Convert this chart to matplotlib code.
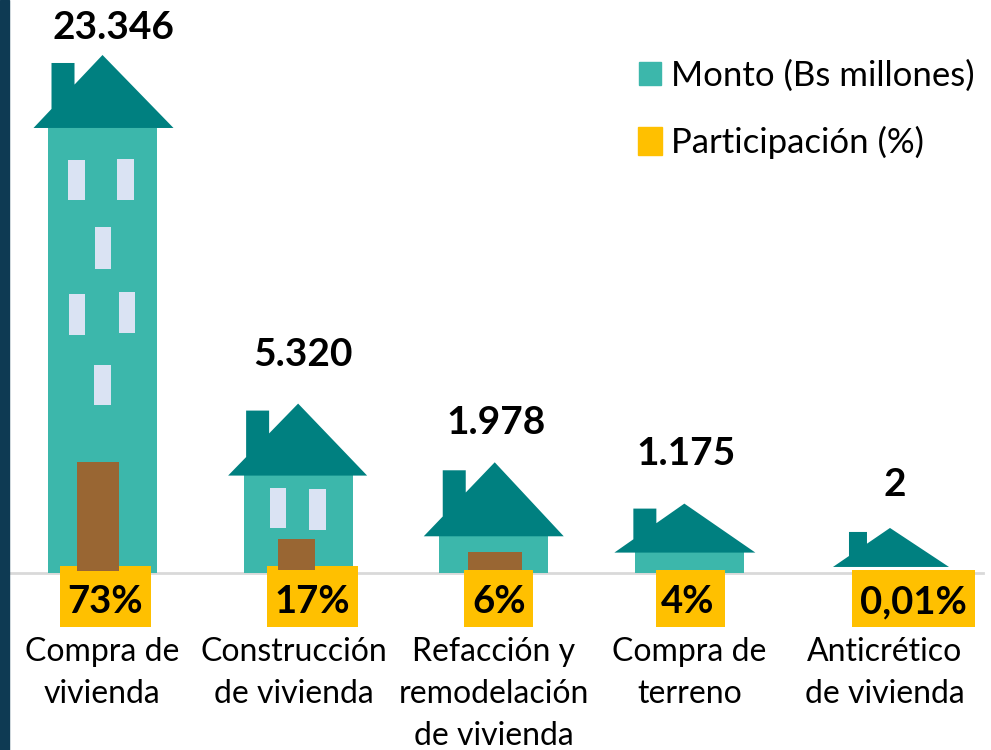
# plot.py
import matplotlib
matplotlib.use('Agg')
import matplotlib.pyplot as plt
from matplotlib.patches import Polygon, Rectangle, Patch
from matplotlib.transforms import Affine2D

categorias = ['Compra de\nvivienda', 'Construcción\nde vivienda', 'Refacción y\nremodelación\nde vivienda',
              'Compra de\nterreno', 'Anticrético\nde vivienda']
montos = [23346, 5320, 1978, 1175, 2]
montos_txt = ['23.346', '5.320', '1.978', '1.175', '2']
participacion = ['73%', '17%', '6%', '4%', '0,01%']

TEAL = '#3CB7AB'
ROOF = '#008080'
WINDOW = '#DAE3F3'
DOOR = '#996633'
YELLOW = '#FFC000'

plt.rcParams['font.family'] = ['Lato', 'DejaVu Sans']

fig = plt.figure(figsize=(9.91, 7.5), dpi=100)
ax = fig.add_axes([0, 0, 1, 1])
ax.set_xlim(-0.524, 4.542)
ax.set_ylim(-9286, 30060)
ax.axis('off')

x = list(range(len(montos)))
ax.bar(x, montos, width=0.557, color=TEAL, zorder=2)
ax.axhline(0, xmin=0.009, xmax=0.992, color='#D9D9D9', linewidth=2, zorder=1)
fig.add_artist(Rectangle((0, 0), 9 / 991, 1, transform=fig.transFigure, color='#0E3A53'))


def px_tf(i, base=False):
    # pixel offsets measured from the bar centre, at the bar top or at the baseline
    y = 0 if base else montos[i]
    return Affine2D().translate(*ax.transData.transform((x[i], y)))


# techo: ancho izq, ancho der, cumbre dx, alto, desplazamiento y, chimenea (x0, x1, alto)
techos = [
    (-69, 71, 0, 73, 0, (-51, -28, 65)),
    (-70, 69, 0, 72, -4, (-52, -29, 65)),
    (-70, 70, 1, 74, -1, (-51, -28, 66)),
    (-75, 66, -5, 49, -2, (-56, -33, 44)),
    (-52, 64, 5, 39, 6, (-36, -18, 35)),
]
for i, (l, r, apex, h, dy, (c0, c1, ch)) in enumerate(techos):
    slope = h / (apex - l)
    pts = [(l, dy), (c0, dy + (c0 - l) * slope), (c0, dy + ch), (c1, dy + ch),
           (c1, dy + (c1 - l) * slope), (apex, dy + h), (r, dy)]
    ax.add_patch(Polygon(pts, closed=True, color=ROOF, lw=0, zorder=3, transform=px_tf(i)))

# ventanas: (casa, x0, ancho, y0 desde la base, alto)
ventanas = [
    (0, -35, 17, 373, 40), (0, 14, 17, 373, 41), (0, -8, 16, 304, 42),
    (0, -34, 16, 238, 41), (0, 16, 16, 240, 41), (0, -9, 17, 168, 40),
    (1, -28, 16, 45, 40), (1, 11, 17, 43, 41),
]
for i, x0, w, y0, h in ventanas:
    ax.add_patch(Rectangle((x0, y0), w, h, color=WINDOW, lw=0, zorder=3, transform=px_tf(i, True)))

# cajas de participacion: centro en px relativo a la barra, ancho, arriba, abajo
cajas = [(3, 91, 7, -54), (14.5, 91, 7, -54), (5, 69, 3, -54), (1, 69, 3, -54), (28.5, 123, 3, -54)]
texto_dx = [0, 0, 0, -3, 0]
for i, (dx, w, top, bottom) in enumerate(cajas):
    ax.add_patch(Rectangle((dx - w / 2, bottom), w, top - bottom, color=YELLOW, lw=0, zorder=4,
                           transform=px_tf(i, True)))
    cx, cy = px_tf(i, True).transform((dx + texto_dx[i], -29))
    ax.text(cx, cy, participacion[i], transform=None, ha='center', va='center',
            fontsize=27.5, fontweight='bold', color='black', zorder=6)

# puertas: (casa, x0, ancho, y0, alto)
puertas = [(0, -25.5, 42, 2, 109), (1, -20, 37, 3, 31), (2, -26, 54, 3, 18)]
for i, x0, w, y0, h in puertas:
    ax.add_patch(Rectangle((x0, y0), w, h, color=DOOR, lw=0, zorder=5, transform=px_tf(i, True)))

# etiquetas de valor: px sobre la base
etiqueta_dx = [11, 5, 2.5, -3, 10]
etiqueta_y = [545.5, 218.5, 150.5, 119.5, 88.5]
for i in x:
    cx, cy = px_tf(i, True).transform((etiqueta_dx[i], etiqueta_y[i]))
    ax.text(cx, cy, montos_txt[i], transform=None, ha='center', va='center',
            fontsize=28, fontweight='bold', color='black', zorder=6)

# categorias
cat_dx = [-0.5, -4, 0, 0, 0]
for i in x:
    cx, cy = px_tf(i, True).transform((cat_dx[i], -64))
    ax.text(cx, cy, categorias[i], transform=None, ha='center', va='top',
            fontsize=23, color='black', linespacing=1.49, zorder=6)

handles = [Patch(color=TEAL, label='Monto (Bs millones)'), Patch(color=YELLOW, label='Participación (%)')]
leg = ax.legend(handles=handles, loc='upper left', bbox_to_anchor=(639 / 991, 1 - 59.5 / 750),
                bbox_transform=fig.transFigure, frameon=False, fontsize=25, handlelength=0.63,
                handleheight=0.63, handletextpad=0.29, labelspacing=0.98, borderpad=0, borderaxespad=0)
# el cuadro amarillo es algo mayor que el verde
amarillo = leg.legend_handles[1]
amarillo.set_x(amarillo.get_x() - 0.7)
amarillo.set_width(amarillo.get_width() + 1.4)
amarillo.set_y(amarillo.get_y() - 2)
amarillo.set_height(amarillo.get_height() + 4)

fig.savefig('out.png', dpi=100)
